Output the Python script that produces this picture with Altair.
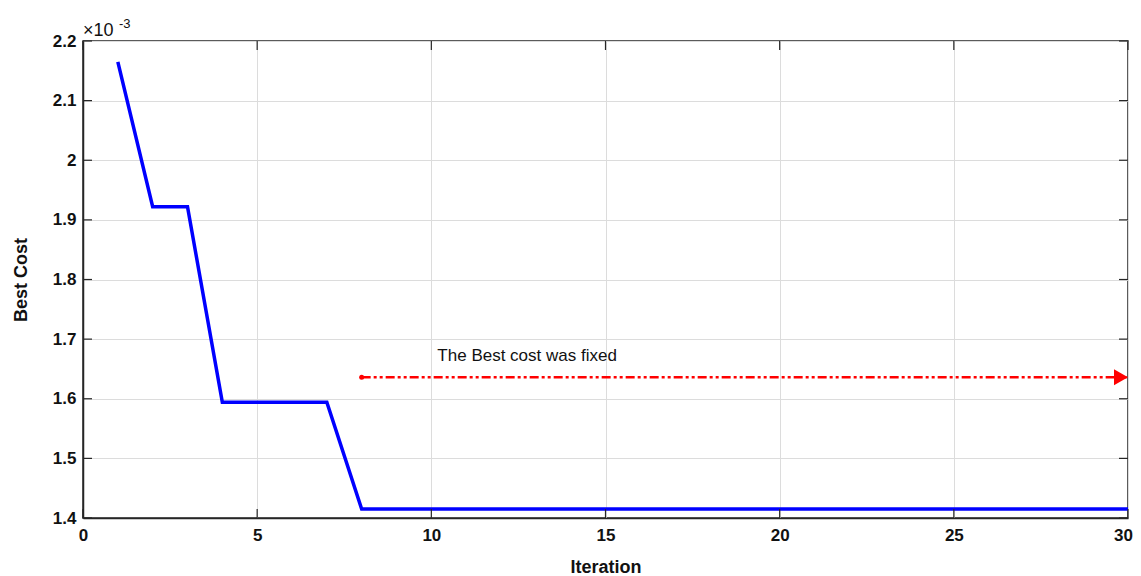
import altair as alt
import pandas as pd

iterations = list(range(1, 31))
best_cost = [2.165, 1.922, 1.922, 1.594, 1.594, 1.594, 1.594] + [1.415] * 23

x_ticks = [0, 5, 10, 15, 20, 25, 30]
y_ticks = [1.4, 1.5, 1.6, 1.7, 1.8, 1.9, 2.0, 2.1, 2.2]

arrow_x = [8, 30]
arrow_y = [1.636, 1.636]
note_text = ["The Best cost was fixed"]
note_x = [12.75]
note_y = [1.671]

df = pd.DataFrame({"Iteration": iterations, "Best Cost": best_cost})
arrow_df = pd.DataFrame({"x": arrow_x, "y": arrow_y})
note_df = pd.DataFrame({"x": note_x, "y": note_y, "t": note_text})
xt_df = pd.DataFrame({"v": x_ticks})
yt_df = pd.DataFrame({"v": y_ticks})

FONT = "Liberation Sans"
xs = alt.Scale(domain=[0, 30], nice=False)
ys = alt.Scale(domain=[1.4, 2.2], nice=False, zero=False)

line = alt.Chart(df).mark_line(color="#0000ff", strokeWidth=3.5).encode(
    x=alt.X("Iteration:Q", scale=xs,
            axis=alt.Axis(values=x_ticks, title="Iteration",
                          labelOffset={"condition": {"test": "datum.value == 30", "value": -5},
                                       "value": 0})),
    y=alt.Y("Best Cost:Q", scale=ys,
            axis=alt.Axis(values=y_ticks,
                          labelExpr="datum.value == 2 ? '2' : format(datum.value, '.1f')",
                          title="Best Cost")),
)

xtick_marks = alt.Chart(xt_df).mark_rule(color="#262626", strokeWidth=1.2).encode(
    x=alt.X("v:Q", scale=xs), y=alt.value(477), y2=alt.value(468))
xtick_top = alt.Chart(xt_df).mark_rule(color="#262626", strokeWidth=1.2).encode(
    x=alt.X("v:Q", scale=xs), y=alt.value(0), y2=alt.value(9))
ytick_marks = alt.Chart(yt_df).mark_rule(color="#262626", strokeWidth=1.2).encode(
    y=alt.Y("v:Q", scale=ys), x=alt.value(0), x2=alt.value(9))
ytick_right = alt.Chart(yt_df).mark_rule(color="#262626", strokeWidth=1.2).encode(
    y=alt.Y("v:Q", scale=ys), x=alt.value(1045), x2=alt.value(1036))

arrow_line = alt.Chart(arrow_df).mark_line(
    color="#ff0000", strokeWidth=2.5, strokeDash=[9, 3, 3, 3, 3, 3]
).encode(x=alt.X("x:Q", scale=xs), y=alt.Y("y:Q", scale=ys))

arrow_head = alt.Chart(arrow_df.iloc[[1]]).mark_point(
    shape="triangle-right", filled=True, color="#ff0000", size=260, opacity=1, xOffset=-7
).encode(x=alt.X("x:Q", scale=xs), y=alt.Y("y:Q", scale=ys))

arrow_tail = alt.Chart(arrow_df.iloc[[0]]).mark_point(
    shape="circle", filled=True, color="#ff0000", size=25, opacity=1
).encode(x=alt.X("x:Q", scale=xs), y=alt.Y("y:Q", scale=ys))

note = alt.Chart(note_df).mark_text(
    font=FONT, fontSize=17, color="#111111", align="center", baseline="middle"
).encode(x=alt.X("x:Q", scale=xs), y=alt.Y("y:Q", scale=ys), text="t:N")

exp_df = pd.DataFrame({"t": ["\u00d710"], "s": ["-3"]})
exp_main = alt.Chart(exp_df).mark_text(
    font=FONT, fontSize=18, color="#111111", align="left", baseline="alphabetic"
).encode(x=alt.value(0), y=alt.value(-5), text="t:N")
exp_sup = alt.Chart(exp_df).mark_text(
    font=FONT, fontSize=13, color="#111111", align="left", baseline="alphabetic"
).encode(x=alt.value(36), y=alt.value(-13), text="s:N")

chart = alt.layer(line, xtick_marks, xtick_top, ytick_marks, ytick_right,
                  arrow_line, arrow_tail, arrow_head, note, exp_main, exp_sup).properties(
    width=1045, height=477,
    autosize=alt.AutoSizeParams(type="none"),
    padding={"left": 75, "top": 33, "right": 5, "bottom": 58},
).configure_view(
    stroke="#262626", strokeWidth=1.5
).configure_axis(
    labelFont=FONT, labelFontSize=17, labelFontWeight="bold", labelColor="#111111",
    titleFont=FONT, titleFontSize=18, titleFontWeight="bold", titleColor="#111111",
    gridColor="#dcdcdc", gridWidth=1, domainColor="#262626", domainWidth=1.5,
    ticks=False, labelFlush=False,
).configure_axisX(
    labelPadding=9, titleY=40
).configure_axisY(
    labelPadding=7, titleX=-53
)

chart.save("out.html", embed_options={"renderer": "svg", "actions": False})
